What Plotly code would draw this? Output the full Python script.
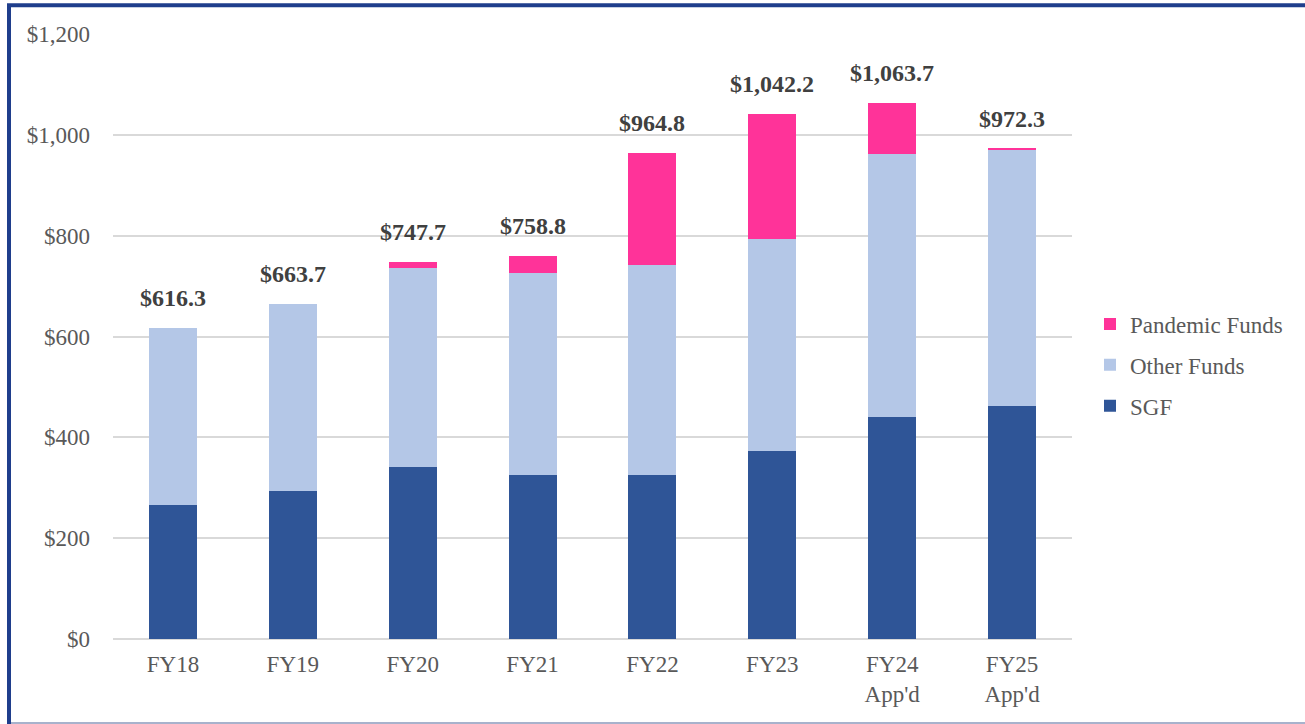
import plotly.graph_objects as go

categories = ["FY18", "FY19", "FY20", "FY21", "FY22", "FY23", "FY24<br>App'd", "FY25<br>App'd"]
sgf = [265.0, 294.3, 342.0, 325.4, 326.0, 372.0, 440.3, 462.1]
other_funds = [351.3, 369.4, 394.0, 400.3, 415.6, 422.0, 521.4, 509.0]
pandemic_funds = [0.0, 0.0, 11.7, 33.1, 223.2, 248.2, 102.0, 1.2]
totals = [616.3, 663.7, 747.7, 758.8, 964.8, 1042.2, 1063.7, 972.3]
total_labels = ["$616.3", "$663.7", "$747.7", "$758.8", "$964.8", "$1,042.2", "$1,063.7", "$972.3"]

W, H = 1305, 724
L, R, T, B = 113, 233, 34, 85
pw, ph = W - L - R, H - T - B

FONT = "Liberation Serif, Times New Roman, serif"

fig = go.Figure()
fig.add_trace(go.Bar(name="SGF", x=categories, y=sgf, legendgroup="a", legendrank=3,
                     marker=dict(color="#2F5597", line=dict(width=0))))
fig.add_trace(go.Bar(name="Other Funds", x=categories, y=other_funds, legendgroup="b", legendrank=2,
                     marker=dict(color="#B4C7E7", line=dict(width=0))))
fig.add_trace(go.Bar(name="Pandemic Funds", x=categories, y=pandemic_funds, legendgroup="c", legendrank=1,
                     marker=dict(color="#FF3399", line=dict(width=0))))

for c, t, lab in zip(categories, totals, total_labels):
    fig.add_annotation(x=c, y=t, text="<b>" + lab + "</b>", showarrow=False,
                       yanchor="bottom", yshift=15,
                       font=dict(family=FONT, size=24, color="#404040"))

def px_x(p):
    return (p - L) / pw

def px_y(p):
    return (H - B - p) / ph

# frame
fig.add_shape(type="line", xref="paper", yref="paper", x0=px_x(9), x1=px_x(9), y0=px_y(4), y1=px_y(724),
              line=dict(color="#1F3E8C", width=4))
fig.add_shape(type="line", xref="paper", yref="paper", x0=px_x(7), x1=px_x(1310), y0=px_y(5.3), y1=px_y(5.3),
              line=dict(color="#1F3E8C", width=4))
fig.add_shape(type="line", xref="paper", yref="paper", x0=px_x(11), x1=px_x(1310), y0=px_y(723), y1=px_y(723),
              line=dict(color="#A8B2CC", width=2))

fig.update_layout(
    width=W, height=H,
    margin=dict(l=L, r=R, t=T, b=B, pad=0),
    barmode="stack", bargap=0.6,
    paper_bgcolor="white", plot_bgcolor="white",
    font=dict(family=FONT, size=23, color="#595959"),
    showlegend=True,
    legend=dict(traceorder="grouped", x=px_x(1090), y=px_y(365), xanchor="left", yanchor="middle",
                font=dict(family=FONT, size=23, color="#595959"), itemwidth=30,
                tracegroupgap=8, bgcolor="rgba(0,0,0,0)"),
    xaxis=dict(showgrid=False, showline=False, ticks="", ticklabelstandoff=9,
               tickfont=dict(size=23, color="#595959")),
    yaxis=dict(range=[0, 1200], dtick=200, tickprefix="$", tickformat=",d",
               showgrid=True, gridcolor="#D9D9D9", gridwidth=2, zeroline=True,
               zerolinecolor="#D9D9D9", zerolinewidth=2, ticks="", ticklabelstandoff=22,
               tickfont=dict(size=23, color="#595959")),
)

fig.write_html("out.html", config={"displayModeBar": False},
               post_script="document.body.style.margin='0';document.body.style.overflow='hidden';")
